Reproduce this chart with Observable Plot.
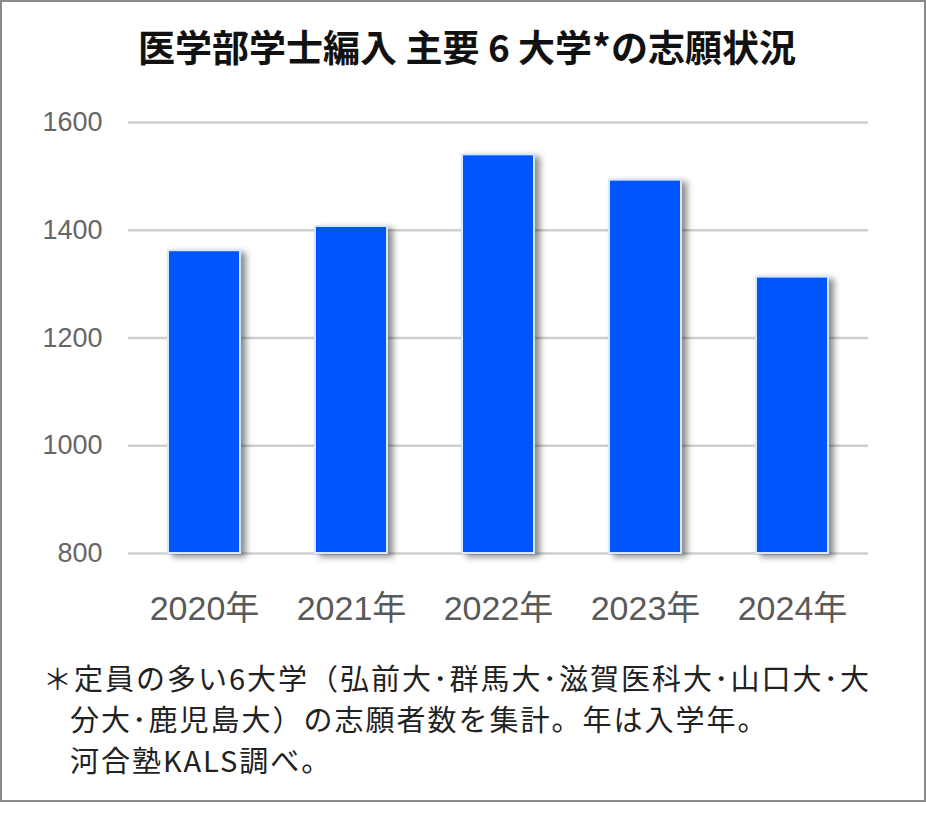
<!DOCTYPE html>
<html><head><meta charset="utf-8">
<script src="https://cdn.jsdelivr.net/npm/d3@7"></script>
<script src="https://cdn.jsdelivr.net/npm/@observablehq/plot@0.6"></script>
<style>
html,body{margin:0;padding:0;background:#fff;}
#frame{position:absolute;left:0;top:0;width:922px;height:798px;border:2px solid #8a8a8a;background:#fff;}
#title{position:absolute;left:0;width:934px;top:26px;text-align:center;font-family:"Noto Sans CJK JP",sans-serif;font-weight:bold;font-size:37px;line-height:40px;color:#111;white-space:pre;}
#chart{position:absolute;left:0;top:90px;}
#note{position:absolute;left:43px;top:657px;font-family:"Noto Sans CJK JP",sans-serif;font-size:29px;letter-spacing:2px;line-height:41px;color:#222;white-space:nowrap;}
#note .ind{padding-left:27px;}
</style></head>
<body>
<div id="frame"></div>
<div id="title">医学部学士編入 主要 6 大学*の志願状況</div>
<div id="chart"></div>
<div id="note">＊定員の多い6大学（弘前大･群馬大･滋賀医科大･山口大･大<br><span class="ind">分大･鹿児島大）の志願者数を集計。年は入学年。</span><br><span class="ind">河合塾KALS調べ。</span></div>
<script>
const years = ["2020年","2021年","2022年","2023年","2024年"];
const applicants = [1362, 1407, 1540, 1493, 1313];
const yTicks = [800, 1000, 1200, 1400, 1600];
const baseline = 800;

const data = years.map((y, i) => ({year: y, value: applicants[i]}));

const plot = Plot.plot({
  width: 924,
  height: 560,
  marginTop: 32,
  marginBottom: 97,
  marginLeft: 128,
  marginRight: 56,
  style: {fontFamily: "'Liberation Sans','Noto Sans CJK JP',sans-serif", background: "transparent", overflow: "visible"},
  x: {domain: years, paddingInner: 0.51, paddingOuter: 0.27},
  y: {domain: [800, 1600]},
  marks: [
    Plot.gridY(yTicks, {stroke: "#cfcfcf", strokeOpacity: 1, strokeWidth: 2.5}),
    Plot.barY(data, {x: "year", y1: baseline, y2: "value", fill: "#0055ff", stroke: "#d8e6ff", strokeWidth: 2}),
    Plot.axisY({ticks: yTicks, tickFormat: d => String(d), tickSize: 0, tickPadding: 26, fontSize: 27, color: "#666", label: null}),
    Plot.axisX({tickSize: 0, tickPadding: 42, fontSize: 34, color: "#595959", label: null})
  ]
});
plot.querySelectorAll('g[aria-label="bar"]').forEach(g => g.style.filter = "drop-shadow(5px 3px 3px rgba(0,0,0,0.45))");
document.getElementById("chart").appendChild(plot);
</script>
</body></html>
